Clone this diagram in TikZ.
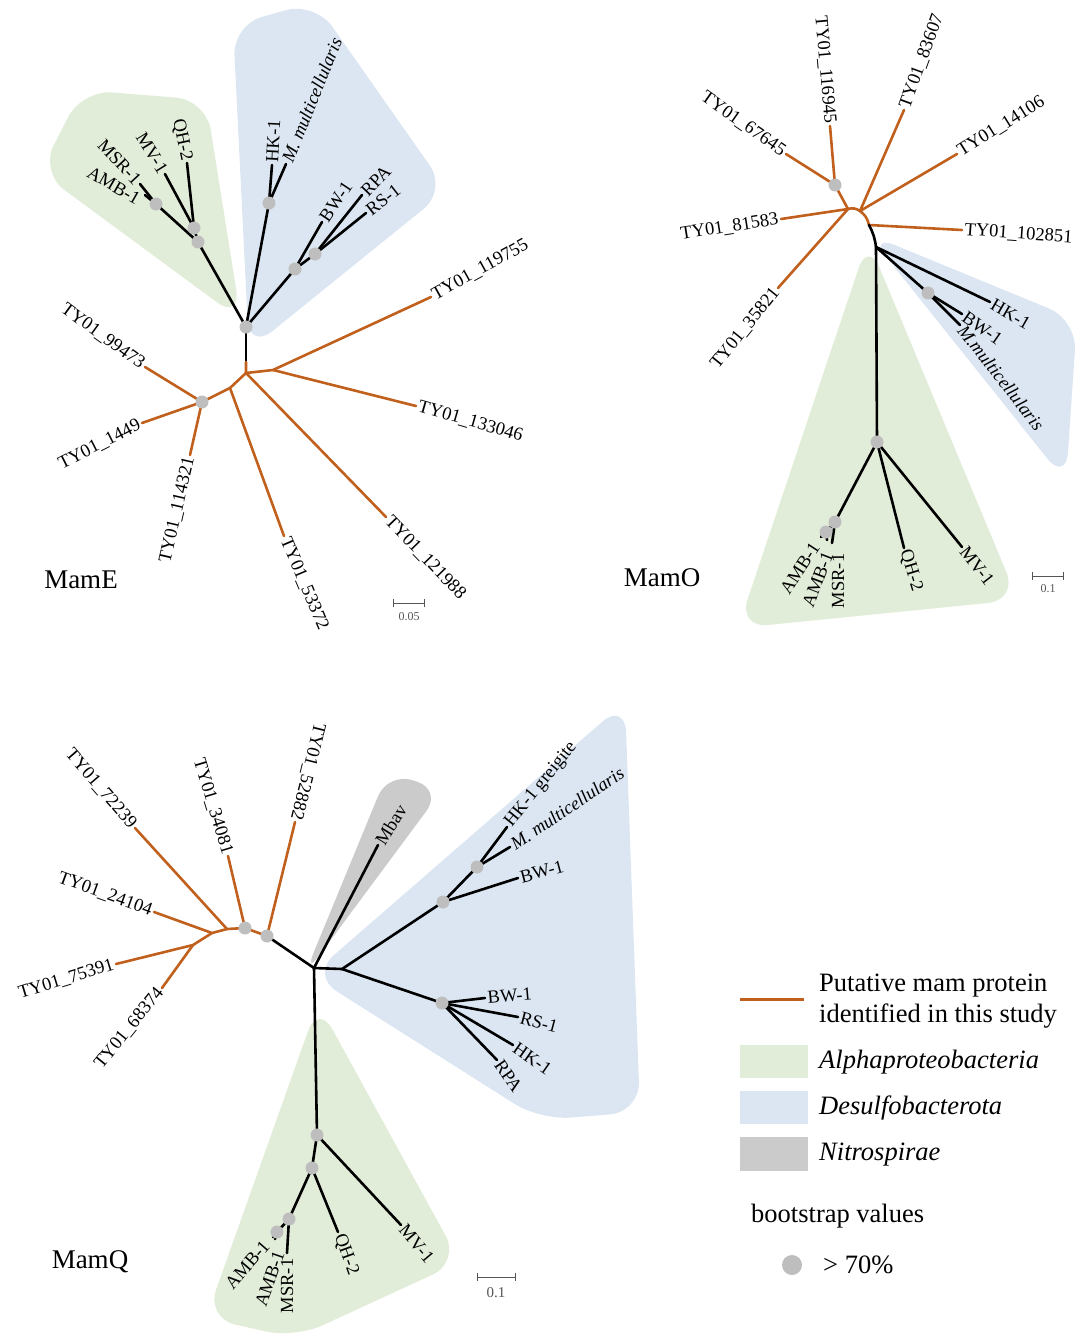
\documentclass[tikz,border=0pt]{standalone}
\usepackage{fontspec}
\setmainfont{Liberation Serif}
\usetikzlibrary{calc}
\definecolor{mamOrange}{HTML}{C0601C}
\definecolor{alphaGreen}{HTML}{E2EDD9}
\definecolor{desulfoBlue}{HTML}{DCE6F2}
\definecolor{nitroGray}{HTML}{CBCBCB}
\definecolor{dotGray}{HTML}{BEBEBE}
\definecolor{barGray}{HTML}{555555}
\tikzset{
    Branch/.style={line width=2.6pt, black, line cap=round, line join=round},
    MamBranch/.style={line width=2.6pt, mamOrange, line cap=round, line join=round},
    BootDot/.style={circle, fill=dotGray, inner sep=0pt, minimum size=13pt},
    TipLabel/.style={font=\fontsize{18.5}{21}\selectfont, inner sep=2.5pt},
    TipWest/.style={TipLabel, anchor=west},
    TipEast/.style={TipLabel, anchor=east},
    PanelTitle/.style={font=\fontsize{27}{32}\selectfont},
    ScaleBar/.style={barGray, line width=1pt},
    ScaleText/.style={font=\fontsize{12}{14}\selectfont, text=barGray},
    LegendText/.style={font=\fontsize{26.5}{31}\selectfont, anchor=west, align=left, inner sep=0pt},
    CladeHull/.style={rounded corners=30pt}
}

\begin{document}
\begin{tikzpicture}[x=1pt, y=-1pt]
    \useasboundingbox (0,0) rectangle (1078,1339);

    % ================= MamE =================
    \fill[alphaGreen, CladeHull] (241,320) -- (40,172) -- (82,90) -- (206,100) -- cycle;
    \fill[desulfoBlue, CladeHull] (249,350) -- (233,25) -- (315,2) -- (447,190) -- cycle;

    \coordinate (eRoot) at (246,327);
    \coordinate (eG1) at (198,242);
    \coordinate (eG2) at (194,228);
    \coordinate (eG3) at (156,204);
    \coordinate (eAMB) at (145,195);
    \coordinate (eMSR) at (140,184);
    \coordinate (eMV) at (165,174);
    \coordinate (eQH) at (187,163);
    \coordinate (eB1) at (269,203);
    \coordinate (eHK) at (272,165);
    \coordinate (eMm) at (286,164);
    \coordinate (eB2) at (295,269);
    \coordinate (eBW) at (322,222);
    \coordinate (eB3) at (315,254);
    \coordinate (eRPA) at (362,195);
    \coordinate (eRS) at (366,213);
    \coordinate (eO1) at (246,362);
    \coordinate (eO2) at (246,373);
    \coordinate (eO3) at (273,370);
    \coordinate (eO4) at (230,388);
    \coordinate (eD) at (202,402);
    \coordinate (e119755) at (431,297);
    \coordinate (e133046) at (416,406);
    \coordinate (e121988) at (386,517);
    \coordinate (e53372) at (284,536);
    \coordinate (e114321) at (190,455);
    \coordinate (e1449) at (142,423);
    \coordinate (e99473) at (145,367);

    \draw[Branch] (eRoot) -- (eG1) -- (eG2) -- (eMV);
    \draw[Branch] (eG2) -- (eQH);
    \draw[Branch] (eG1) -- (eG3) -- (eAMB);
    \draw[Branch] (eG3) -- (eMSR);
    \draw[Branch] (eRoot) -- (eB1) -- (eHK);
    \draw[Branch] (eB1) -- (eMm);
    \draw[Branch] (eRoot) -- (eB2) -- (eBW);
    \draw[Branch] (eB2) -- (eB3) -- (eRPA);
    \draw[Branch] (eB3) -- (eRS);
    \draw[Branch] (eRoot) -- (eO1);
    \draw[MamBranch] (eO1) -- (eO2) -- (eO3) -- (e119755);
    \draw[MamBranch] (eO3) -- (e133046);
    \draw[MamBranch] (eO2) -- (e121988);
    \draw[MamBranch] (eO2) -- (eO4) -- (e53372);
    \draw[MamBranch] (eO4) -- (eD) -- (e99473);
    \draw[MamBranch] (eD) -- (e1449);
    \draw[MamBranch] (eD) -- (e114321);

    \foreach \p in {eRoot, eG1, eG2, eG3, eB1, eB2, eB3, eD}
        \node[BootDot] at (\p) {};

    \node[TipEast, rotate=-30] (lEAMB) at (141,201) {AMB-1};
    \node[TipEast, rotate=-47] (lEMSR) at (eMSR) {MSR-1};
    \node[TipEast, rotate=-58] (lEMV) at (eMV) {MV-1};
    \node[TipEast, rotate=-78] (lEQH) at (eQH) {QH-2};
    \node[TipWest, rotate=87] (lEHK) at (eHK) {HK-1};
    \node[TipWest, rotate=68] (lEMm) at (eMm) {\itshape M. multicellularis};
    \node[TipWest, rotate=56] (lEBW) at (eBW) {BW-1};
    \node[TipWest, rotate=46] (lERPA) at (eRPA) {RPA};
    \node[TipWest, rotate=38] (lERS) at (eRS) {RS-1};
    \node[TipWest, rotate=29] (lE119755) at (e119755) {TY01\_119755};
    \node[TipWest, rotate=-16] (lE133046) at (e133046) {TY01\_133046};
    \node[TipWest, rotate=-46] (lE121988) at (e121988) {TY01\_121988};
    \node[TipWest, rotate=-67] (lE53372) at (e53372) {TY01\_53372};
    \node[TipEast, rotate=77] (lE114321) at (e114321) {TY01\_114321};
    \node[TipEast, rotate=27] (lE1449) at (e1449) {TY01\_1449};
    \node[TipEast, rotate=-36] (lE99473) at (e99473) {TY01\_99473};

    \node[PanelTitle] (mamE) at (81,580) {MamE};
    \draw[ScaleBar] (393,603) -- (424,603);
    \draw[ScaleBar] (393,599) -- (393,607);
    \draw[ScaleBar] (424,599) -- (424,607);
    \node[ScaleText] (scaleE) at (409,617) {0.05};

    % ================= MamO =================
    \fill[alphaGreen, CladeHull] (868,240) -- (738,628) -- (1018,600) -- cycle;
    \fill[desulfoBlue, CladeHull] (868,234) -- (1077,320) -- (1066,482) -- cycle;

    \coordinate (oDot) at (835,185);
    \coordinate (oA) at (848,209);
    \coordinate (oB) at (860,211);
    \coordinate (oC) at (869,225);
    \coordinate (oD) at (876,247);
    \coordinate (oBdot) at (928,293);
    \coordinate (oE) at (877,442);
    \coordinate (oF) at (835,522);
    \coordinate (oG) at (826,532);
    \coordinate (o67645) at (786,154);
    \coordinate (o116945) at (830,126);
    \coordinate (o81583) at (781,219);
    \coordinate (o35821) at (778,288);
    \coordinate (o83607) at (904,110);
    \coordinate (o14106) at (957,154);
    \coordinate (o102851) at (962,230);
    \coordinate (oHK) at (990,302);
    \coordinate (oBW) at (962,314);
    \coordinate (oMm) at (960,325);
    \coordinate (oMSR) at (832,543);
    \coordinate (oAMBa) at (821,537);
    \coordinate (oAMBb) at (827,540);
    \coordinate (oQH) at (904,548);
    \coordinate (oMV) at (962,547);

    \draw[MamBranch] (o67645) -- (oDot) -- (oA);
    \draw[MamBranch] (o116945) -- (oDot);
    \draw[MamBranch] (o81583) -- (oA);
    \draw[MamBranch] (o35821) -- (oA);
    \draw[MamBranch] (oA) to[bend left=25] (oB);
    \draw[MamBranch] (oB) to[bend left=20] (oC);
    \draw[MamBranch] (oB) -- (o83607);
    \draw[MamBranch] (oB) -- (o14106);
    \draw[MamBranch] (oC) -- (o102851);
    \draw[Branch] (oC) to[bend left=10] (oD);
    \draw[Branch] (oD) -- (oHK);
    \draw[Branch] (oD) -- (oBdot) -- (oBW);
    \draw[Branch] (oBdot) -- (oMm);
    \draw[Branch] (oD) -- (oE) -- (oQH);
    \draw[Branch] (oE) -- (oMV);
    \draw[Branch] (oE) -- (oF) -- (oMSR);
    \draw[Branch] (oF) -- (oG) -- (oAMBa);
    \draw[Branch] (oG) -- (oAMBb);

    \foreach \p in {oDot, oBdot, oE, oF, oG}
        \node[BootDot] at (\p) {};

    \node[TipEast, rotate=-35] (lO67645) at (o67645) {TY01\_67645};
    \node[TipEast, rotate=-85] (lO116945) at (o116945) {TY01\_116945};
    \node[TipEast, rotate=9] (lO81583) at (o81583) {TY01\_81583};
    \node[TipEast, rotate=51] (lO35821) at (o35821) {TY01\_35821};
    \node[TipWest, rotate=70] (lO83607) at (o83607) {TY01\_83607};
    \node[TipWest, rotate=32] (lO14106) at (o14106) {TY01\_14106};
    \node[TipWest, rotate=-4] (lO102851) at (o102851) {TY01\_102851};
    \node[TipWest, rotate=-30] (lOHK) at (oHK) {HK-1};
    \node[TipWest, rotate=-35] (lOBW) at (oBW) {BW-1};
    \node[TipWest, rotate=-52] (lOMm) at (oMm) {\itshape M.multicellularis};
    \node[TipEast, rotate=57] (lOAMBa) at (817,542) {AMB-1};
    \node[TipEast, rotate=69] (lOAMBb) at (829,550) {AMB-1};
    \node[TipEast, rotate=90] (lOMSR) at (838,551) {MSR-1};
    \node[TipWest, rotate=-73] (lOQH) at (oQH) {QH-2};
    \node[TipWest, rotate=-52] (lOMV) at (oMV) {MV-1};

    \node[PanelTitle] (mamO) at (662,578) {MamO};
    \draw[ScaleBar] (1032,576) -- (1063,576);
    \draw[ScaleBar] (1032,572) -- (1032,580);
    \draw[ScaleBar] (1063,572) -- (1063,580);
    \node[ScaleText] (scaleO) at (1048,589) {0.1};

    % ================= MamQ =================
    \fill[nitroGray, rounded corners=26pt] (304,976) -- (388,772) -- (442,790) -- cycle;
    \fill[desulfoBlue, CladeHull] (311,975) -- (625,702) -- (640,1112) -- (540,1120) -- cycle;
    \fill[alphaGreen, CladeHull] (318,1003) -- (206,1318) -- (295,1338) -- (460,1262) -- cycle;

    \coordinate (qR) at (314,968);
    \coordinate (qO1) at (267,936);
    \coordinate (qO2) at (245,928);
    \coordinate (qO3) at (227,929);
    \coordinate (qO4) at (212,933);
    \coordinate (qO5) at (193,945);
    \coordinate (q52882) at (295,822);
    \coordinate (q34081) at (228,856);
    \coordinate (q72239) at (135,828);
    \coordinate (q24104) at (154,912);
    \coordinate (q75391) at (116,964);
    \coordinate (q68374) at (162,988);
    \coordinate (qMbav) at (378,845);
    \coordinate (qBl) at (342,969);
    \coordinate (qU) at (443,902);
    \coordinate (qU2) at (477,867);
    \coordinate (qL) at (442,1003);
    \coordinate (qHKg) at (507,827);
    \coordinate (qMm) at (510,847);
    \coordinate (qBWu) at (518,878);
    \coordinate (qBWl) at (485,998);
    \coordinate (qRS) at (518,1017);
    \coordinate (qHK) at (513,1045);
    \coordinate (qRPA) at (497,1060);
    \coordinate (qH) at (317,1135);
    \coordinate (qI) at (312,1168);
    \coordinate (qJ) at (289,1219);
    \coordinate (qK) at (277,1232);
    \coordinate (qMV) at (401,1225);
    \coordinate (qQH) at (338,1232);
    \coordinate (qMSR) at (287,1253);
    \coordinate (qAMBa) at (273,1237);
    \coordinate (qAMBb) at (275,1239);

    \draw[Branch] (qR) -- (qO1);
    \draw[MamBranch] (qO1) -- (q52882);
    \draw[MamBranch] (qO1) -- (qO2) -- (q34081);
    \draw[MamBranch] (qO2) -- (qO3) -- (q72239);
    \draw[MamBranch] (qO3) -- (qO4) -- (q24104);
    \draw[MamBranch] (qO4) -- (qO5) -- (q75391);
    \draw[MamBranch] (qO5) -- (q68374);
    \draw[Branch] (qR) -- (qMbav);
    \draw[Branch] (qR) -- (qBl) -- (qU) -- (qBWu);
    \draw[Branch] (qU) -- (qU2) -- (qHKg);
    \draw[Branch] (qU2) -- (qMm);
    \draw[Branch] (qBl) -- (qL) -- (qBWl);
    \draw[Branch] (qL) -- (qRS);
    \draw[Branch] (qL) -- (qHK);
    \draw[Branch] (qL) -- (qRPA);
    \draw[Branch] (qR) -- (qH) -- (qMV);
    \draw[Branch] (qH) -- (qI) -- (qQH);
    \draw[Branch] (qI) -- (qJ) -- (qMSR);
    \draw[Branch] (qJ) -- (qK) -- (qAMBa);
    \draw[Branch] (qK) -- (qAMBb);

    \foreach \p in {qO1, qO2, qU, qU2, qL, qH, qI, qJ, qK}
        \node[BootDot] at (\p) {};

    \node[TipEast, rotate=-104] (lQ52882) at (q52882) {TY01\_52882};
    \node[TipEast, rotate=-73] (lQ34081) at (q34081) {TY01\_34081};
    \node[TipEast, rotate=-49] (lQ72239) at (q72239) {TY01\_72239};
    \node[TipEast, rotate=-20] (lQ24104) at (q24104) {TY01\_24104};
    \node[TipEast, rotate=17] (lQ75391) at (q75391) {TY01\_75391};
    \node[TipEast, rotate=51] (lQ68374) at (q68374) {TY01\_68374};
    \node[TipWest, rotate=58] (lQMbav) at (qMbav) {Mbav};
    \node[TipWest, rotate=51] (lQHKg) at (qHKg) {HK-1 greigite};
    \node[TipWest, rotate=34] (lQMm) at (qMm) {\itshape M. multicellularis};
    \node[TipWest, rotate=15] (lQBWu) at (qBWu) {BW-1};
    \node[TipWest, rotate=5] (lQBWl) at (qBWl) {BW-1};
    \node[TipWest, rotate=-15] (lQRS) at (qRS) {RS-1};
    \node[TipWest, rotate=-35] (lQHK) at (qHK) {HK-1};
    \node[TipWest, rotate=-55] (lQRPA) at (qRPA) {RPA};
    \node[TipEast, rotate=49] (lQAMBa) at (268,1241) {AMB-1};
    \node[TipEast, rotate=71] (lQAMBb) at (280,1249) {AMB-1};
    \node[TipEast, rotate=90] (lQMSR) at (287,1256) {MSR-1};
    \node[TipWest, rotate=-70] (lQQH) at (qQH) {QH-2};
    \node[TipWest, rotate=-50] (lQMV) at (qMV) {MV-1};

    \node[PanelTitle] (mamQ) at (90,1262) {MamQ};
    \draw[ScaleBar] (477,1277) -- (515,1277);
    \draw[ScaleBar] (477,1273) -- (477,1281);
    \draw[ScaleBar] (515,1273) -- (515,1281);
    \node[ScaleText, font=\fontsize{15}{17}\selectfont] (scaleQ) at (496,1293) {0.1};

    % ================= legend =================
    \coordinate (keyA) at (740,999);
    \coordinate (keyB) at (804,999);
    \draw[mamOrange, line width=3pt] (keyA) -- (keyB);
    \node[LegendText] (keyMam) at (819,1001) {Putative mam protein\\identified in this study};
    \fill[alphaGreen] (740,1045) rectangle (808,1078);
    \node[LegendText] (keyAlpha) at (819,1062) {\itshape Alphaproteobacteria};
    \fill[desulfoBlue] (740,1091) rectangle (808,1124);
    \node[LegendText] (keyDesulfo) at (819,1108) {\itshape Desulfobacterota};
    \fill[nitroGray] (740,1137) rectangle (808,1171);
    \node[LegendText] (keyNitro) at (819,1155) {\itshape Nitrospirae};
    \node[LegendText] (keyBoot) at (751,1216) {bootstrap values};
    \node[BootDot, minimum size=20pt] (keyDot) at (792,1265) {};
    \node[LegendText] (keyPct) at (823,1265) {> 70\%};
\end{tikzpicture}
\end{document}
